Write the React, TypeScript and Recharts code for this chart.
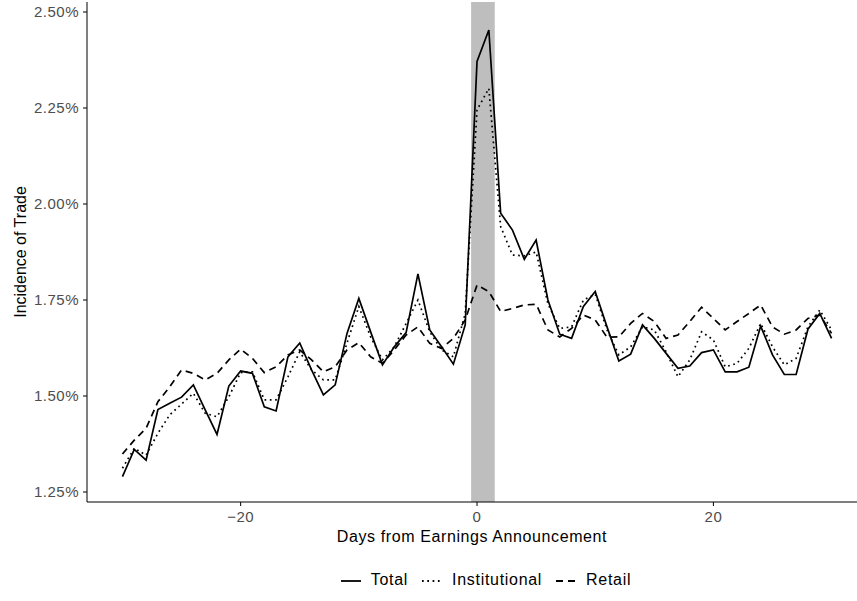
import React from 'react';
import { LineChart, Line, XAxis, YAxis, ReferenceArea } from 'recharts';

const DAYS = Array.from({ length: 61 }, (_, i) => i - 30);

const TOTAL = [
  1.290, 1.361, 1.333, 1.465, 1.481, 1.497, 1.529, 1.464, 1.400, 1.526,
  1.565, 1.559, 1.472, 1.461, 1.602, 1.638, 1.568, 1.503, 1.529, 1.663,
  1.754, 1.667, 1.581, 1.628, 1.665, 1.818, 1.672, 1.628, 1.583, 1.685,
  2.371, 2.453, 1.976, 1.932, 1.856, 1.906, 1.750, 1.661, 1.650, 1.733,
  1.772, 1.680, 1.591, 1.609, 1.685, 1.650, 1.611, 1.572, 1.578, 1.613,
  1.620, 1.563, 1.563, 1.575, 1.682, 1.607, 1.556, 1.556, 1.674, 1.715,
  1.650,
];

const INSTITUTIONAL = [
  1.312, 1.364, 1.346, 1.403, 1.451, 1.479, 1.507, 1.455, 1.446, 1.498,
  1.561, 1.563, 1.490, 1.490, 1.550, 1.615, 1.568, 1.542, 1.542, 1.638,
  1.733, 1.654, 1.594, 1.628, 1.689, 1.750, 1.667, 1.620, 1.602, 1.715,
  2.245, 2.301, 1.941, 1.867, 1.865, 1.875, 1.740, 1.676, 1.680, 1.750,
  1.765, 1.672, 1.607, 1.628, 1.680, 1.672, 1.615, 1.550, 1.594, 1.667,
  1.646, 1.576, 1.585, 1.624, 1.689, 1.628, 1.581, 1.598, 1.680, 1.724,
  1.672,
];

const RETAIL = [
  1.349, 1.385, 1.416, 1.485, 1.524, 1.568, 1.559, 1.542, 1.559, 1.594,
  1.622, 1.598, 1.561, 1.576, 1.607, 1.620, 1.594, 1.563, 1.576, 1.620,
  1.639, 1.602, 1.585, 1.620, 1.659, 1.680, 1.637, 1.624, 1.650, 1.698,
  1.789, 1.772, 1.720, 1.728, 1.737, 1.739, 1.672, 1.654, 1.676, 1.711,
  1.698, 1.653, 1.654, 1.689, 1.715, 1.694, 1.650, 1.659, 1.694, 1.731,
  1.702, 1.672, 1.694, 1.715, 1.737, 1.680, 1.661, 1.672, 1.702, 1.711,
  1.663,
];

const X_TICKS = [-20, 0, 20];
const Y_TICKS = [1.25, 1.5, 1.75, 2.0, 2.25, 2.5];
const EVENT_WINDOW = [-0.5, 1.5];

const rows = DAYS.map((d, i) => ({
  day: d,
  total: TOTAL[i],
  inst: INSTITUTIONAL[i],
  retail: RETAIL[i],
}));

const FONT = '"Liberation Sans", Arial, sans-serif';
const fmtX = (v: number) => (v < 0 ? '\u2212' + Math.abs(v) : String(v));
const fmtY = (v: number) => v.toFixed(2) + '%';

const tickStyle = { fill: '#4d4d4d', fontSize: 15, fontFamily: FONT, letterSpacing: 0.5 };

const LegendKey = ({ dash }: { dash?: string }) => (
  <svg width={24} height={10} style={{ verticalAlign: 'middle', marginRight: 8 }}>
    <line x1={2} y1={5} x2={22} y2={5} stroke="#000" strokeWidth={1.8} strokeDasharray={dash} />
  </svg>
);

export default function App() {
  return (
    <div style={{ position: 'absolute', left: 0, top: 0, width: 857, height: 601, fontFamily: FONT }}>
      <LineChart width={857} height={601} data={rows} margin={{ top: 2, right: 0, bottom: 49, left: 0 }}>
        <XAxis
          dataKey="day"
          type="number"
          domain={[-33, 32.15]}
          allowDataOverflow
          ticks={X_TICKS}
          tickFormatter={fmtX}
          height={50}
          tickSize={4}
          tickMargin={5}
          stroke="#000"
          tick={tickStyle}
          label={{ value: 'Days from Earnings Announcement', position: 'insideBottom', offset: 10, fill: '#000', fontSize: 16, fontFamily: FONT, style: { letterSpacing: 0.6 } }}
        />
        <YAxis
          type="number"
          domain={[1.224, 2.526]}
          allowDataOverflow
          ticks={Y_TICKS}
          tickFormatter={fmtY}
          width={87}
          tickSize={4}
          tickMargin={4}
          stroke="#000"
          tick={tickStyle}
          label={{ value: 'Incidence of Trade', angle: -90, position: 'insideLeft', offset: 20, style: { textAnchor: 'middle' }, fill: '#000', fontSize: 16, fontFamily: FONT }}
        />
        <ReferenceArea x1={EVENT_WINDOW[0]} x2={EVENT_WINDOW[1]} fill="#bebebe" fillOpacity={1} stroke="none" ifOverflow="hidden" />
        <Line dataKey="total" stroke="#000" strokeWidth={1.7} dot={false} isAnimationActive={false} />
        <Line dataKey="inst" stroke="#000" strokeWidth={1.7} strokeDasharray="1.7 3.6" dot={false} isAnimationActive={false} />
        <Line dataKey="retail" stroke="#000" strokeWidth={1.7} strokeDasharray="7 5" dot={false} isAnimationActive={false} />
      </LineChart>
      <div style={{ position: 'absolute', top: 571, left: 0, width: 970, textAlign: 'center', fontSize: 16, letterSpacing: 0.7, color: '#000', whiteSpace: 'nowrap' }}>
        <span style={{ marginRight: 12 }}><LegendKey />Total</span>
        <span style={{ marginRight: 12 }}><LegendKey dash="1.7 3.6" />Institutional</span>
        <span><LegendKey dash="7 5" />Retail</span>
      </div>
    </div>
  );
}
